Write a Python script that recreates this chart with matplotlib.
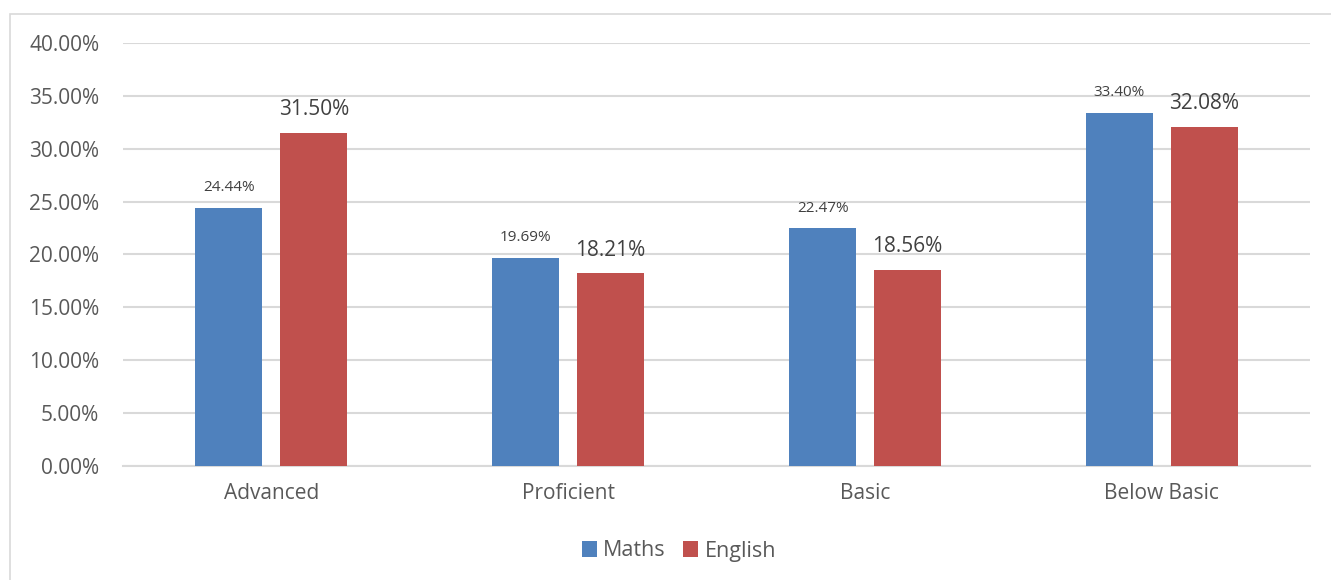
import numpy as np
import matplotlib.pyplot as plt
from matplotlib.patches import Rectangle

categories = ["Advanced", "Proficient", "Basic", "Below Basic"]
maths = [24.44, 19.69, 22.47, 33.40]
english = [31.50, 18.21, 18.56, 32.08]
yticks = [0, 5, 10, 15, 20, 25, 30, 35, 40]

plt.rcParams['font.family'] = ['Open Sans', 'DejaVu Sans']
text_col = "#595959"
grid_col = "#d9d9d9"

fig = plt.figure(figsize=(13.31, 5.8), dpi=100)
ax = fig.add_axes([0.0924, 0.1966, 0.892, 0.7293])

# outer chart border
fig.patches.append(Rectangle((10 / 1331, -0.01), 1.0, 1 - 14 / 580 + 0.01,
                             transform=fig.transFigure, fill=False,
                             edgecolor=grid_col, linewidth=1.2))

x = np.arange(len(categories))
w = 0.226
off = 0.143
b1 = ax.bar(x - off, maths, w, color="#4F81BD", label="Maths", zorder=3)
b2 = ax.bar(x + off, english, w, color="#C0504D", label="English", zorder=3)

for rect, v in zip(b1, maths):
    ax.annotate("{:.2f}%".format(v), (rect.get_x() + rect.get_width() / 2, v),
                xytext=(0, 9), textcoords="offset points", ha="center",
                va="bottom", fontsize=11, color="#404040")
for rect, v in zip(b2, english):
    ax.annotate("{:.2f}%".format(v), (rect.get_x() + rect.get_width() / 2, v),
                xytext=(0, 9), textcoords="offset points", ha="center",
                va="bottom", fontsize=15, color="#404040")

ax.set_xlim(-0.5, len(categories) - 0.5)
ax.set_ylim(0, 40)
ax.set_yticks(yticks)
ax.set_yticklabels(["{:.2f}%".format(t) for t in yticks])
ax.set_xticks(x)
ax.set_xticklabels(categories)
ax.tick_params(axis="both", length=0, colors=text_col, labelsize=15)
ax.tick_params(axis="x", pad=12)
ax.tick_params(axis="y", pad=17)
ax.yaxis.grid(True, color=grid_col, linewidth=1.5, zorder=0)
for s in ["top", "right", "left"]:
    ax.spines[s].set_visible(False)
ax.spines["bottom"].set_color(grid_col)
ax.spines["bottom"].set_linewidth(1.5)

fig.legend(loc="center", bbox_to_anchor=(0.51, 1 - 551 / 580), ncol=2,
           frameon=False, fontsize=15.5, labelcolor=text_col,
           handlelength=0.7, handleheight=0.7, handletextpad=0.3,
           columnspacing=0.8)

fig.savefig("out.png", dpi=100)
